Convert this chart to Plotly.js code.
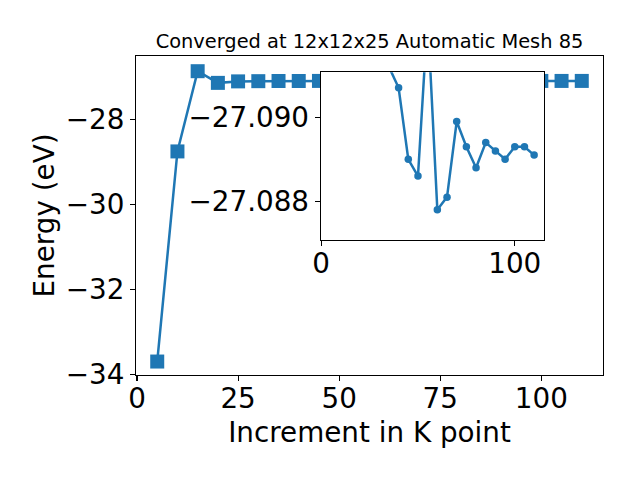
<!DOCTYPE html>
<html>
<head>
<meta charset="utf-8">
<script src="https://cdn.plot.ly/plotly-3.0.1.min.js"></script>
<style>html,body{margin:0;padding:0;background:#fff;}#chart{width:640px;height:480px;}</style>
</head>
<body>
<div id="chart"></div>
<script>
// K-point increments and total energies (eV)
const kpoints = [5, 10, 15, 20, 25, 30, 35, 40, 45, 50, 55, 60, 65, 70, 75, 80, 85, 90, 95, 100, 105, 110];
const energies = [-33.70, -28.75, -26.86, -27.135, -27.100, -27.095, -27.0912, -27.0907, -27.0890, -27.0886,
  -27.0924, -27.0878, -27.0881, -27.0899, -27.0893, -27.0888, -27.0894, -27.0892, -27.0890, -27.0893,
  -27.0893, -27.0891];
// the zoomed inset shows the converged part of the series (from 20 onward)
const insetStart = 3;
const insetK = kpoints.slice(insetStart);
const insetE = energies.slice(insetStart);
const titleText = 'Converged at 12x12x25 Automatic Mesh 85';
const xTitle = 'Increment in K point';
const yTitle = 'Energy (eV)';

const color = '#1f77b4';
const font = 'DejaVu Sans, sans-serif';
const big = 27.8;

const main = {
  x: kpoints, y: energies, type: 'scatter', mode: 'lines+markers',
  line: {color: color, width: 2.5},
  marker: {symbol: 'square', size: 14, color: color},
  xaxis: 'x', yaxis: 'y', hoverinfo: 'skip'
};
const inset = {
  x: insetK, y: insetE, type: 'scatter', mode: 'lines+markers',
  line: {color: color, width: 2.5},
  marker: {symbol: 'circle', size: 7.5, color: color},
  xaxis: 'x2', yaxis: 'y2', hoverinfo: 'skip'
};

const axisCommon = {
  showgrid: false, zeroline: false, showline: true, linecolor: '#000', linewidth: 1.1,
  mirror: true, ticks: 'outside', ticklen: 5, tickwidth: 1.1, tickcolor: '#000',
  tickfont: {family: font, size: big, color: '#000'}
};

const layout = {
  width: 640, height: 480,
  margin: {l: 136, r: 37, t: 56, b: 105},
  paper_bgcolor: '#fff', plot_bgcolor: '#fff',
  showlegend: false,
  font: {family: font, color: '#000'},
  title: {text: titleText, font: {family: font, size: 19.4, color: '#000'},
          x: 0.5, xref: 'paper', xanchor: 'center', y: 1 - 41/480, yref: 'container', yanchor: 'middle'},
  xaxis: Object.assign({}, axisCommon, {
    range: [-0.25, 115.25], tick0: 0, dtick: 25, domain: [0, 1], ticklabelstandoff: -6,
    title: {text: xTitle, font: {family: font, size: big, color: '#000'}, standoff: 8}
  }),
  yaxis: Object.assign({}, axisCommon, {
    range: [-34.017, -26.502], tick0: -34, dtick: 2, domain: [0, 1],
    title: {text: yTitle, font: {family: font, size: big, color: '#000'}, standoff: 2}
  }),
  xaxis2: Object.assign({}, axisCommon, {
    range: [-0.25, 115.25], tick0: 0, dtick: 100, domain: [0.3955, 0.8743], anchor: 'y2', ticklabelstandoff: -6
  }),
  yaxis2: Object.assign({}, axisCommon, {
    range: [-27.08708, -27.09107], tick0: -27.090, dtick: 0.002, tickformat: '.3f',
    domain: [0.4232, 0.9489], anchor: 'x2'
  })
};

Plotly.newPlot('chart', [main, inset], layout, {displayModeBar: false, staticPlot: true});
</script>
</body>
</html>
